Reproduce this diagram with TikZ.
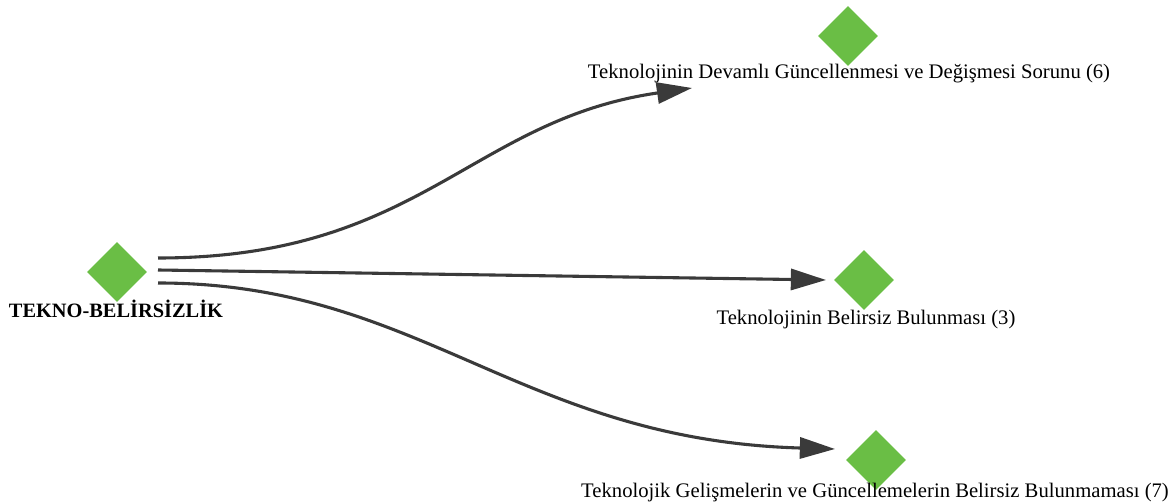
\documentclass[tikz,border=0pt]{standalone}
\usepackage{fontspec}
\setmainfont{Liberation Serif}
\usetikzlibrary{shapes.geometric,arrows.meta}
\definecolor{kodyesil}{RGB}{106,190,69}
\definecolor{okgri}{RGB}{58,58,58}
\tikzset{
  elmas/.style={diamond,aspect=1,fill=kodyesil,inner sep=0pt,minimum size=1.5cm},
  etiket/.style={inner sep=0pt,font=\fontsize{14.7}{17}\selectfont},
  ok/.style={okgri,line width=2.2pt,-{Triangle[length=25pt,width=15pt]}}
}
\begin{document}
\begin{tikzpicture}[x=0.025cm,y=-0.025cm]
      \useasboundingbox (0,0) rectangle (1169,503);

      \node[elmas] (kaynak) at (117,272) {};
      \node[etiket,font=\fontsize{14.5}{17}\selectfont\bfseries] (kaynaketk) at (116,309) {TEKNO-BELİRSİZLİK};

      \node[elmas] (ust) at (848,36) {};
      \node[etiket] (ustetk) at (849,74) {Teknolojinin Devamlı Güncellenmesi ve Değişmesi Sorunu (6)};

      \node[elmas] (orta) at (864,280) {};
      \node[etiket] (ortaetk) at (866,320) {Teknolojinin Belirsiz Bulunması (3)};

      \node[elmas] (alt) at (876,460) {};
      \node[etiket] (altetk) at (875,493) {Teknolojik Gelişmelerin ve Güncellemelerin Belirsiz Bulunmaması (7)};

      % uc noktalari
      \coordinate (c1) at (158,258);
      \coordinate (c2) at (158,270);
      \coordinate (c3) at (158,283);
      \coordinate (u1) at (692,88);  % ust ok
      \coordinate (u2) at (826,280); % orta ok
      \coordinate (u3) at (835,449); % alt ok

      \draw[ok] (c1) .. controls (420,258) and (470,120) .. (u1);
      \draw[ok] (c2) -- (u2);
      \draw[ok] (c3) .. controls (420,283) and (520,440) .. (u3);
    \end{tikzpicture}
\end{document}
